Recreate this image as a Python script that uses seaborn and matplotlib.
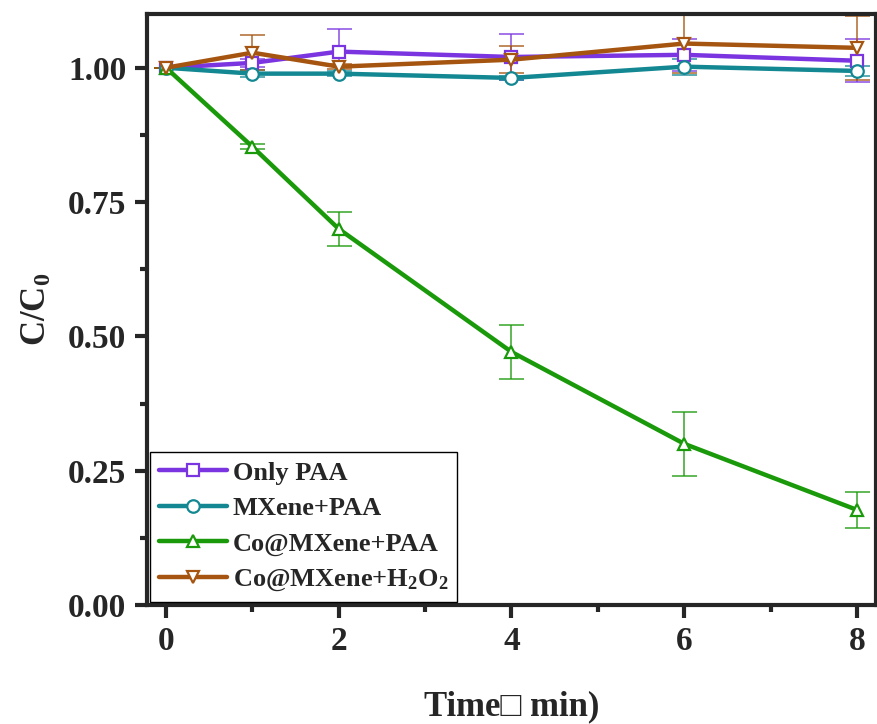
import numpy as np
import pandas as pd
import matplotlib
matplotlib.use("Agg")
import matplotlib.pyplot as plt
from matplotlib.ticker import MultipleLocator
import seaborn as sns

time = [0, 1, 2, 4, 6, 8]
series_names = ["Only PAA", "MXene+PAA", "Co@MXene+PAA", "Co@MXene+H$_\\mathbf{2}$O$_\\mathbf{2}$"]
only_paa = [1.000, 1.009, 1.030, 1.020, 1.024, 1.013]
only_paa_err = [0.0, 0.008, 0.043, 0.043, 0.030, 0.040]
mxene_paa = [1.000, 0.989, 0.989, 0.981, 1.002, 0.994]
mxene_paa_err = [0.0, 0.006, 0.004, 0.004, 0.015, 0.010]
co_paa = [1.000, 0.853, 0.700, 0.471, 0.300, 0.177]
co_paa_err = [0.0, 0.005, 0.032, 0.050, 0.060, 0.033]
co_h2o2 = [1.000, 1.028, 1.002, 1.015, 1.045, 1.037]
co_h2o2_err = [0.0, 0.033, 0.005, 0.025, 0.055, 0.060]

colors = ["#7B35E0", "#138892", "#1A9A0A", "#A65510"]
markers = ["s", "o", "^", "v"]

sns.set_style("ticks")
plt.rcParams["font.family"] = ["Liberation Serif", "DejaVu Serif"]
plt.rcParams["font.weight"] = "bold"
plt.rcParams["mathtext.fontset"] = "custom"
plt.rcParams["mathtext.rm"] = "Liberation Serif:bold"
plt.rcParams["mathtext.bf"] = "Liberation Serif:bold"
plt.rcParams["mathtext.it"] = "Liberation Serif:bold:italic"

vals = [only_paa, mxene_paa, co_paa, co_h2o2]
errs = [only_paa_err, mxene_paa_err, co_paa_err, co_h2o2_err]
rows = []
for name, v, e in zip(series_names, vals, errs):
    for t, y, err in zip(time, v, e):
        rows.append({"Time": t, "C": y, "err": err, "Series": name})
df = pd.DataFrame(rows)

fig = plt.figure(figsize=(8.77, 7.24), dpi=100)
ax = fig.add_axes([147 / 877, (724 - 605) / 724, (876 - 147) / 877, (605 - 14) / 724])

for name, col in zip(series_names, colors):
    d = df[df["Series"] == name]
    ax.errorbar(d["Time"], d["C"], yerr=d["err"], fmt="none", ecolor=col, alpha=0.75,
                elinewidth=1.3, capsize=9, capthick=1.3, zorder=2)

n_before = len(ax.lines)
sns.lineplot(data=df, x="Time", y="C", hue="Series", style="Series",
             hue_order=series_names, style_order=series_names,
             palette=colors, markers=markers, dashes=False, ax=ax,
             linewidth=3.2, markersize=9, zorder=3)
for line, col in zip(ax.lines[n_before:], colors):
    line.set_markeredgecolor(col)
    line.set_markerfacecolor("white")
    line.set_markeredgewidth(1.6)

ax.set_xlim(-0.22, 8.22)
ax.set_ylim(0, 1.1)
ax.xaxis.set_major_locator(MultipleLocator(2))
ax.xaxis.set_minor_locator(MultipleLocator(1))
ax.yaxis.set_major_locator(MultipleLocator(0.25))
ax.yaxis.set_minor_locator(MultipleLocator(0.125))
ax.yaxis.set_major_formatter(matplotlib.ticker.FormatStrFormatter("%.2f"))
ax.tick_params(axis="both", which="major", direction="out", length=9, width=3,
               labelsize=24, top=False, right=False, pad=6)
ax.tick_params(axis="both", which="minor", direction="out", length=5, width=3,
               top=False, right=False)
for lab in ax.get_xticklabels() + ax.get_yticklabels():
    lab.set_fontweight("bold")
for sp in ax.spines.values():
    sp.set_linewidth(3)
    sp.set_visible(True)

ax.set_xlabel("Time\u25a1 min)", fontsize=25, fontweight="bold", labelpad=24,
              family=["Liberation Serif", "DejaVu Sans"])
ax.set_ylabel("C/C$_\\mathbf{0}$", fontsize=25, fontweight="bold", labelpad=10)

handles, labels = ax.get_legend_handles_labels()
leg = ax.legend(handles=handles, labels=labels, loc="lower left", borderaxespad=0.1,
                frameon=True, fancybox=False, framealpha=1, edgecolor="black",
                prop={"family": "Liberation Serif", "weight": "bold", "size": 19},
                handlelength=2.6, handletextpad=0.2, labelspacing=0.45, borderpad=0.35)
leg.get_frame().set_linewidth(1.0)
for h, col in zip(leg.legend_handles, colors):
    h.set_markerfacecolor("white")
    h.set_markeredgecolor(col)
    h.set_markeredgewidth(1.6)
    h.set_markersize(9)

fig.savefig("out.png", dpi=100)
